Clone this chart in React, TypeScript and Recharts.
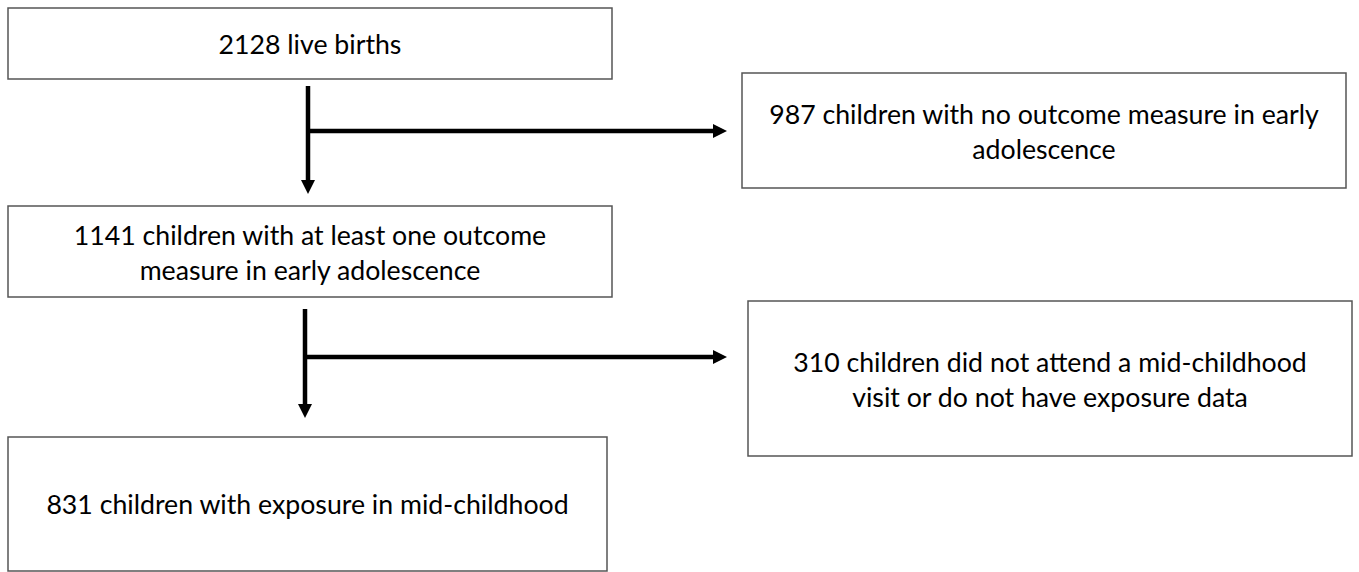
import { ComposedChart, XAxis, YAxis, ReferenceArea, ReferenceLine, Scatter } from "recharts";

// flow boxes, in page units (x to the right, y downwards)
const boxLeft = [8, 742, 8, 748, 8];
const boxRight = [612, 1346, 612, 1352, 607];
const boxTop = [8, 73, 206, 301, 437];
const boxBottom = [79, 188, 297, 456, 571];
const boxLines = [
  ["2128 live births"],
  ["987 children with no outcome measure in early", "adolescence"],
  ["1141 children with at least one outcome", "measure in early adolescence"],
  ["310 children did not attend a mid-childhood", "visit or do not have exposure data"],
  ["831 children with exposure in mid-childhood"],
];

// connector segments: [x1, y1, x2, y2]
const connectors = [
  [308, 86, 308, 184],
  [308, 131, 717, 131],
  [305, 309, 305, 408],
  [305, 357, 717, 357],
];

// arrow tips
const arrowTips = [
  { x: 308, y: 194, dir: "down" },
  { x: 727, y: 131, dir: "right" },
  { x: 305, y: 418, dir: "down" },
  { x: 727, y: 357, dir: "right" },
];

const W = 1359;
const H = 572;
const FONT = "Lato, 'Open Sans', sans-serif";

const labelPoints = boxLines.map((lines, i) => ({
  x: (boxLeft[i] + boxRight[i]) / 2,
  y: (boxTop[i] + boxBottom[i]) / 2 + (lines.length > 1 ? 1 : 0),
  lines,
}));

function BoxText(props: any) {
  const { cx, cy, payload } = props;
  const lines: string[] = payload.lines;
  const lh = 34.5;
  const start = cy - ((lines.length - 1) * lh) / 2;
  return (
    <text x={cx} textAnchor="middle" fontFamily={FONT} fontSize={26.7} fill="#000">
      {lines.map((l, i) => (
        <tspan key={i} x={cx} y={start + i * lh} dominantBaseline="central">
          {l}
        </tspan>
      ))}
    </text>
  );
}

function ArrowHead(props: any) {
  const { cx, cy, payload } = props;
  const len = 14;
  const half = 7;
  const pts =
    payload.dir === "down"
      ? `${cx},${cy} ${cx - half},${cy - len} ${cx + half},${cy - len}`
      : `${cx},${cy} ${cx - len},${cy - half} ${cx - len},${cy + half}`;
  return <polygon points={pts} fill="#000" />;
}

export default function App() {
  document.body.style.margin = "0";
  return (
    <div style={{ width: W, height: H, background: "#fff" }}>
      <ComposedChart width={W} height={H} margin={{ top: 0, right: 0, bottom: 0, left: 0 }}>
        <XAxis type="number" dataKey="x" domain={[0, W]} hide allowDataOverflow />
        <YAxis type="number" dataKey="y" domain={[0, H]} reversed hide allowDataOverflow />
        {boxLines.map((_, i) => (
          <ReferenceArea
            key={`b${i}`}
            x1={boxLeft[i]}
            x2={boxRight[i]}
            y1={boxTop[i]}
            y2={boxBottom[i]}
            fill="#fff"
            fillOpacity={1}
            stroke="#555"
            strokeWidth={1.5}
          />
        ))}
        {connectors.map((c, i) => (
          <ReferenceLine
            key={`c${i}`}
            segment={[
              { x: c[0], y: c[1] },
              { x: c[2], y: c[3] },
            ]}
            stroke="#000"
            strokeWidth={4.5}
          />
        ))}
        <Scatter data={arrowTips} shape={<ArrowHead />} isAnimationActive={false} />
        <Scatter data={labelPoints} shape={<BoxText />} isAnimationActive={false} />
      </ComposedChart>
    </div>
  );
}
